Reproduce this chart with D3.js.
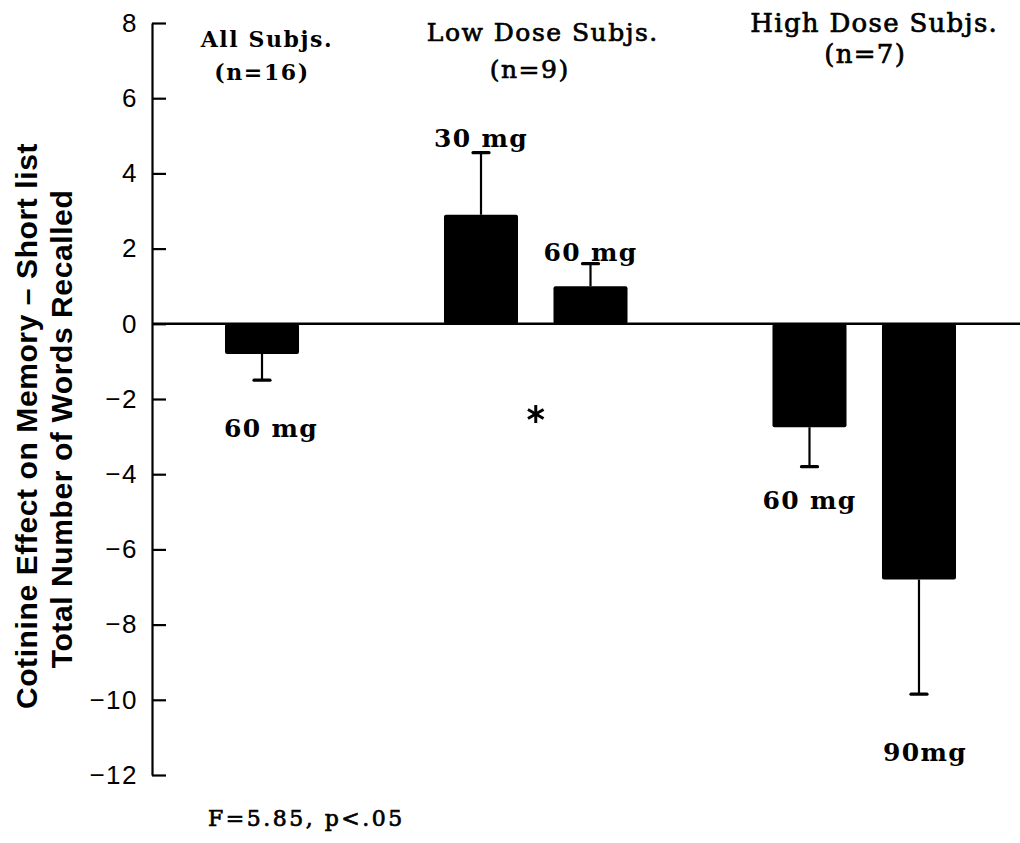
<!DOCTYPE html>
<html>
<head>
<meta charset="utf-8">
<script src="https://cdn.jsdelivr.net/npm/d3@7"></script>
<style>
  body { margin: 0; background: #fff; }
  svg { display: block; }
</style>
</head>
<body>
<svg id="chart" width="1020" height="843"></svg>
<script>
// ---- data ----
const groups = ["All Subjs.", "Low Dose Subjs.", "High Dose Subjs."];
const groupN = [16, 9, 7];
const barGroup = [0, 1, 1, 2, 2];
const doseLabels = ["60 mg", "30 mg", "60 mg", "60 mg", "90mg"];
const means = [-0.8, 2.9, 1.0, -2.75, -6.8];
const errorEnds = [-1.5, 4.55, 1.6, -3.8, -9.85];
const yTicks = [8, 6, 4, 2, 0, -2, -4, -6, -8, -10, -12];
const yTitle = ["Cotinine Effect on Memory \u2013 Short list", "Total Number of Words Recalled"];
const statText = "F=5.85, p<.05";
const sigMark = -2.4;   // height of the significance asterisk between the low-dose bars

// ---- layout ----
const svg = d3.select("#chart");
const serif = "'DejaVu Serif', serif";
const sans = "'Liberation Sans', Arial, sans-serif";

// one empty slot between groups
const slots = means.map((_, i) => i + barGroup[i]);
const nSlots = d3.max(slots) + 1;

const x = d3.scaleBand()
  .domain(d3.range(nSlots))
  .range([225, 956])
  .paddingInner(0.324)
  .paddingOuter(0);

const y = d3.scaleLinear().domain([-12, 8]).range([775, 23]);

const axisX = 152;
const cx = i => x(slots[i]) + x.bandwidth() / 2;

// y axis with inward ticks
const yAxis = d3.axisLeft(y)
  .tickValues(yTicks)
  .tickSizeInner(-14)
  .tickSizeOuter(0)
  .tickPadding(14)
  .tickFormat(d3.format("d"));

const gAxis = svg.append("g")
  .attr("transform", `translate(${axisX},0)`)
  .call(yAxis);
gAxis.select(".domain").attr("stroke", "#000").attr("stroke-width", 2.2);
gAxis.selectAll(".tick line").attr("stroke", "#000").attr("stroke-width", 2.2);
gAxis.selectAll(".tick text")
  .attr("font-family", sans)
  .attr("font-size", 26)
  .attr("fill", "#000")
  .attr("letter-spacing", 1.5);

// zero reference line
svg.append("line")
  .attr("x1", axisX).attr("x2", 1020)
  .attr("y1", y(0)).attr("y2", y(0))
  .attr("stroke", "#000").attr("stroke-width", 2.6);

// bars
svg.append("g").selectAll("rect")
  .data(means)
  .join("rect")
  .attr("x", (d, i) => x(slots[i]))
  .attr("width", x.bandwidth())
  .attr("y", d => Math.min(y(d), y(0)))
  .attr("height", d => Math.abs(y(d) - y(0)))
  .attr("rx", 2)
  .attr("fill", "#000");

// error bars (outward side only)
const gErr = svg.append("g").attr("stroke", "#000");
gErr.selectAll("line.whisker")
  .data(errorEnds)
  .join("line")
  .attr("class", "whisker")
  .attr("x1", (d, i) => cx(i)).attr("x2", (d, i) => cx(i))
  .attr("y1", (d, i) => y(means[i])).attr("y2", d => y(d))
  .attr("stroke-width", 2.2);
gErr.selectAll("line.cap")
  .data(errorEnds)
  .join("line")
  .attr("class", "cap")
  .attr("x1", (d, i) => cx(i) - 8).attr("x2", (d, i) => cx(i) + 8)
  .attr("y1", d => y(d)).attr("y2", d => y(d))
  .attr("stroke-width", 3.2)
  .attr("stroke-linecap", "round");

// dose labels, placed off the end of each error bar
const labelShift = [[9, 57], [0, -6], [0, -3], [0, 42], [6, 67]];
svg.append("g").selectAll("text")
  .data(doseLabels)
  .join("text")
  .attr("x", (d, i) => cx(i) + labelShift[i][0])
  .attr("y", (d, i) => y(errorEnds[i]) + labelShift[i][1])
  .attr("text-anchor", "middle")
  .attr("font-family", serif)
  .attr("font-weight", "bold")
  .attr("font-size", 25)
  .attr("letter-spacing", 1.3)
  .text(d => d);

// group headers
const groupCenter = groups.map((g, k) => d3.mean(slots.filter((s, i) => barGroup[i] === k).map(s => x(s) + x.bandwidth() / 2)));
const headerLayout = [
  { dx1: 5, y1: 47, dx2: 0, y2: 80, size: 22, weight: "bold", ls: 1.6, sw: 0 },
  { dx1: 7, y1: 41, dx2: -6, y2: 78, size: 25, weight: "normal", ls: 1.5, sw: 0.7 },
  { dx1: 10, y1: 32, dx2: 1, y2: 63, size: 26, weight: "normal", ls: 1.3, sw: 0.7 }
];
const gHead = svg.append("g")
  .attr("font-family", serif)
  .attr("text-anchor", "middle")
  .attr("fill", "#000")
  .attr("stroke", "#000");
groups.forEach((g, k) => {
  const L = headerLayout[k];
  [[g, L.dx1, L.y1], [`(n=${groupN[k]})`, L.dx2, L.y2]].forEach(([t, dx, yy]) => {
    gHead.append("text")
      .attr("x", groupCenter[k] + dx).attr("y", yy)
      .attr("font-size", L.size).attr("font-weight", L.weight)
      .attr("letter-spacing", L.ls)
      .attr("stroke-width", L.sw)
      .text(t);
  });
});

// significance asterisk between the two low-dose bars
const ax = (cx(1) + cx(2)) / 2;
const ay = y(sigMark);
const arm = 9;
const gStar = svg.append("g").attr("stroke", "#000").attr("stroke-width", 3);
[90, 30, 150].forEach(a => {
  const r = a * Math.PI / 180;
  gStar.append("line")
    .attr("x1", ax - arm * Math.cos(r)).attr("y1", ay - arm * Math.sin(r))
    .attr("x2", ax + arm * Math.cos(r)).attr("y2", ay + arm * Math.sin(r));
});

// y-axis title, two lines
const gTitle = svg.append("g")
  .attr("font-family", sans)
  .attr("font-weight", "bold")
  .attr("font-size", 30)
  .attr("text-anchor", "middle")
  .attr("fill", "#000");
gTitle.append("text")
  .attr("transform", "translate(37,426) rotate(-90)")
  .attr("letter-spacing", 0.6)
  .text(yTitle[0]);
gTitle.append("text")
  .attr("transform", "translate(72,429) rotate(-90)")
  .attr("letter-spacing", 0.6)
  .text(yTitle[1]);

// test statistic
svg.append("text")
  .attr("x", 208).attr("y", 826)
  .attr("font-family", serif)
  .attr("font-size", 22)
  .attr("letter-spacing", 2.5)
  .attr("stroke", "#000")
  .attr("stroke-width", 0.7)
  .text(statText);
</script>
</body>
</html>
